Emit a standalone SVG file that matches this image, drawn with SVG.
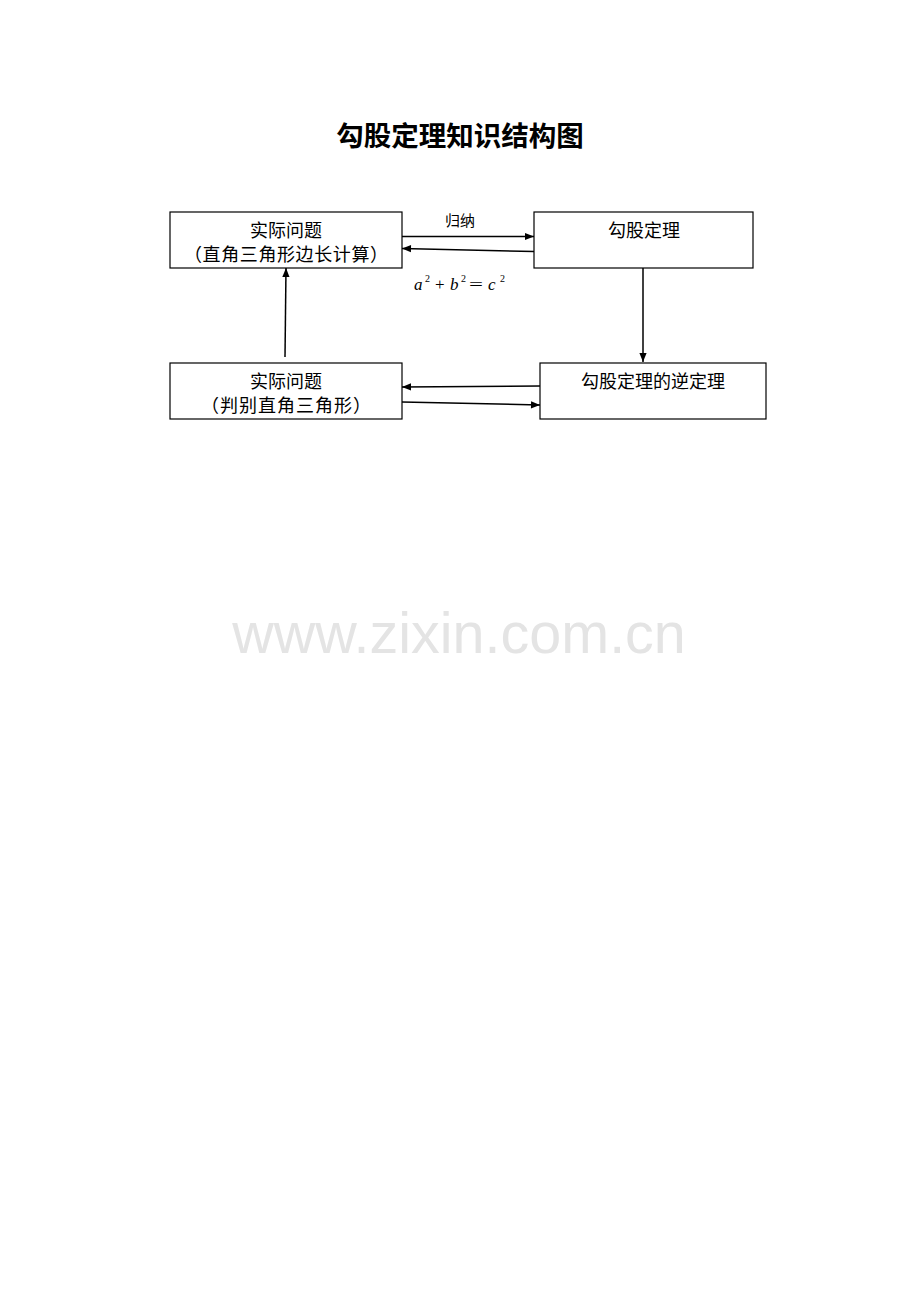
<svg xmlns="http://www.w3.org/2000/svg" width="920" height="1302" viewBox="0 0 920 1302">
<style>
.box{fill:#fff;stroke:#000;stroke-width:1.2}
.t{font-family:"Liberation Serif","Noto Sans CJK SC",serif;font-size:18px;fill:#000;text-anchor:middle}
.c{stroke:#000;stroke-width:1.5;fill:none;marker-end:url(#ah)}
.m{font-family:"Liberation Serif",serif;font-size:17px}
.i{font-style:italic}
.s{font-size:10px}
</style>
<defs>
<marker id="ah" viewBox="0 0 10 10" refX="10" refY="5" markerWidth="10" markerHeight="9" orient="auto" markerUnits="userSpaceOnUse">
<path d="M0,1 L10,5 L0,9 z" fill="#000"/>
</marker>
</defs>
<rect width="920" height="1302" fill="#fff"/>
<text x="460" y="146" font-family="'Noto Sans CJK SC',sans-serif" font-size="27.5" font-weight="bold" text-anchor="middle">勾股定理知识结构图</text>
<text x="459" y="653" font-family="'Liberation Sans',sans-serif" font-size="57.5" fill="#e4e4e4" text-anchor="middle">www.zixin.com.cn</text>
<g id="n1"><rect class="box" x="170" y="212" width="232" height="56"/><text class="t" x="286" y="237">实际问题</text><text class="t" x="286" y="261" textLength="204" lengthAdjust="spacing">（直角三角形边长计算）</text></g>
<g id="n2"><rect class="box" x="534" y="212" width="219" height="56"/><text class="t" x="644" y="237">勾股定理</text></g>
<g id="n3"><rect class="box" x="170" y="363" width="232" height="56"/><text class="t" x="286" y="388">实际问题</text><text class="t" x="286" y="412" textLength="170" lengthAdjust="spacing">（判别直角三角形）</text></g>
<g id="n4"><rect class="box" x="540" y="363" width="226" height="56"/><text class="t" x="653" y="388">勾股定理的逆定理</text></g>
<g id="connectors">
<line class="c" x1="402" y1="236.5" x2="534" y2="236.5"/>
<line class="c" x1="534" y1="251.5" x2="402" y2="248.5"/>
<line class="c" x1="285" y1="357" x2="286" y2="268"/>
<line class="c" x1="643" y1="268" x2="643" y2="362"/>
<line class="c" x1="540" y1="386" x2="402" y2="387"/>
<line class="c" x1="402" y1="402" x2="540" y2="405"/>
<text x="460" y="226" font-family="'Noto Sans CJK SC',sans-serif" font-size="15" text-anchor="middle">归纳</text>
<g class="m">
<text x="414" y="290" class="i">a</text><text x="425" y="282" class="s">2</text>
<text x="435" y="290">+</text>
<text x="450" y="290" class="i">b</text><text x="461" y="282" class="s">2</text>
<text x="469" y="290" textLength="14" lengthAdjust="spacingAndGlyphs">=</text>
<text x="488" y="290" class="i">c</text><text x="500" y="282" class="s">2</text>
</g>
</g>
</svg>
